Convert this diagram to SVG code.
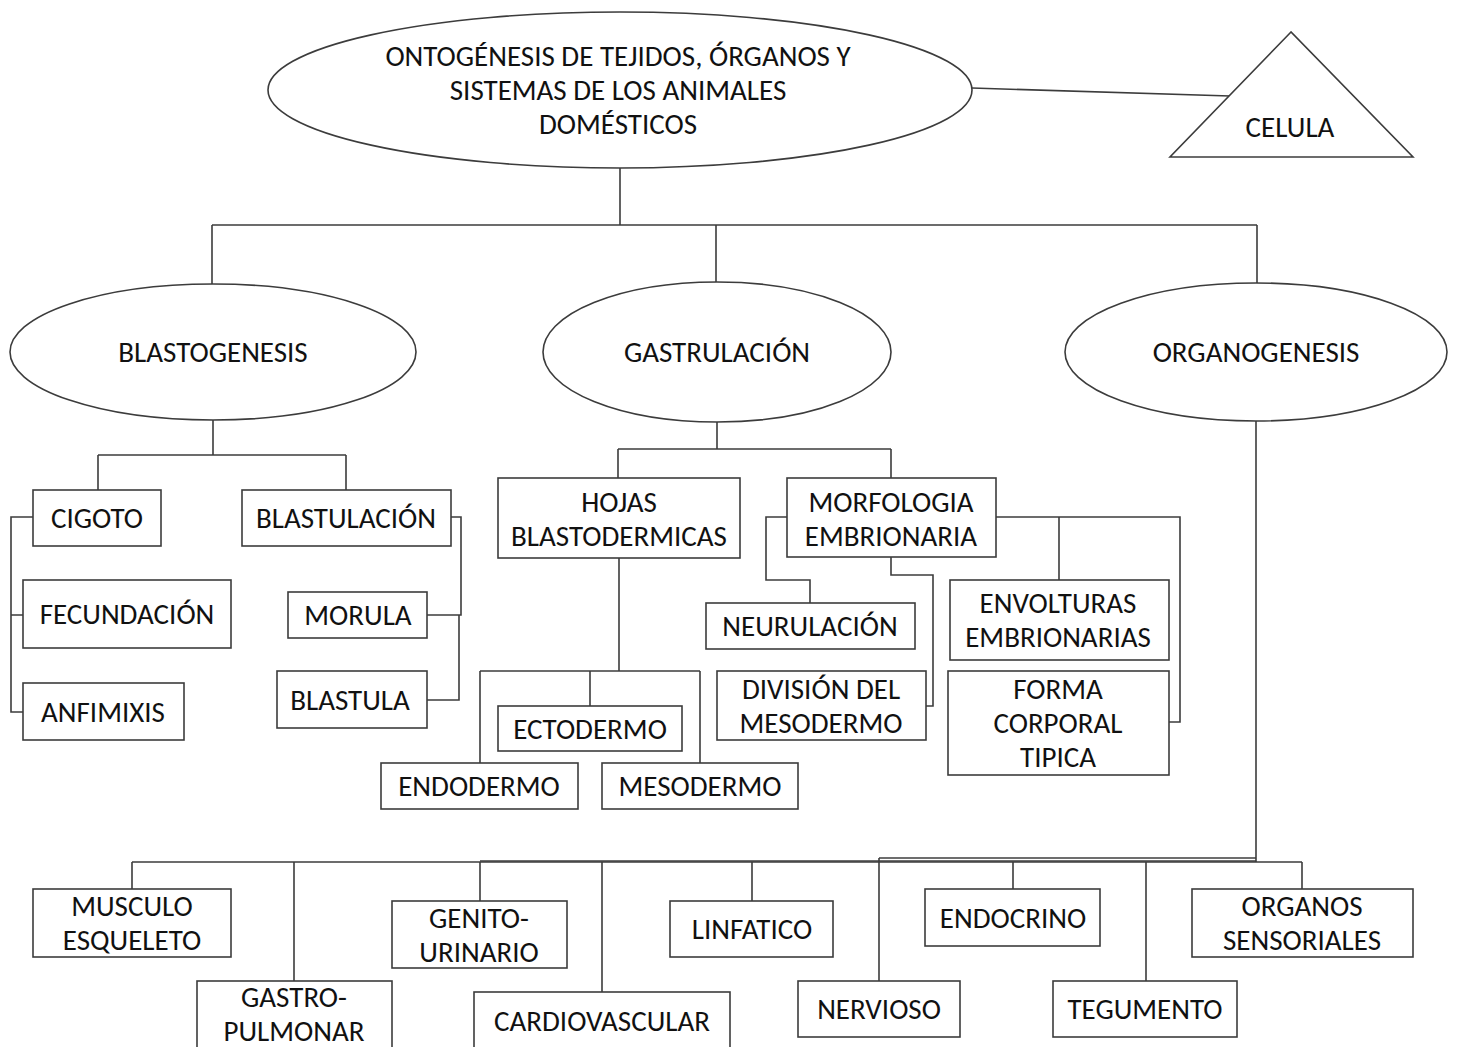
<svg xmlns="http://www.w3.org/2000/svg" width="1460" height="1047" viewBox="0 0 1460 1047">
<style>
.n{fill:#fff;stroke:#3c3c3c;stroke-width:1.6}
.c{fill:none;stroke:#3c3c3c;stroke-width:1.6}
text{font-family:Carlito,"Liberation Sans",sans-serif;font-size:29px;fill:#111;text-anchor:middle;dominant-baseline:central}
</style>
<rect width="1460" height="1047" fill="#fff"/>
<g id="connectors">
<path class="c" d="M972,88 L1230,96"/>
<path class="c" d="M620,168 V225 M212,225 H1257 M212,225 V285 M716,225 V283 M1257,225 V283"/>
<path class="c" d="M213,420 V455 M98,455 H346 M98,455 V490 M346,455 V490"/>
<path class="c" d="M33,517 H11 V712 H23 M11,615 H23"/>
<path class="c" d="M451,517 H461 V615 H427 M459,615 V700 H427"/>
<path class="c" d="M717,422 V449 M618,449 H891 M618,449 V478 M891,449 V478"/>
<path class="c" d="M619,558 V671 M480,671 H700 M480,671 V763 M590,671 V706 M700,671 V763"/>
<path class="c" d="M787,517 H766 V580 H810 V603"/>
<path class="c" d="M891,557 V575 H933 V706 H926"/>
<path class="c" d="M996,517 H1180 V722 H1169 M1059,517 V580"/>
<path class="c" d="M1256,420 V862 M132,862 H1302 M132,862 V889 M294,862 V981 M480,862 V901 M602,862 V992 M752,862 V901 M879,858 V981 M1013,862 V889 M1146,862 V981 M1302,862 V889"/>
<path class="c" d="M480,861 H1256" stroke-width="3"/>
<path class="c" d="M879,858 H1256"/>
</g>
<g id="root"><ellipse class="n" cx="620" cy="90" rx="352" ry="78"/><text x="618" y="56">ONTOGÉNESIS DE TEJIDOS, ÓRGANOS Y</text><text x="618" y="90">SISTEMAS DE LOS ANIMALES</text><text x="618" y="124">DOMÉSTICOS</text></g>
<g id="celula"><polygon class="n" points="1291,32 1170,157 1413,157"/><text x="1290" y="127">CELULA</text></g>
<g id="blastogenesis"><ellipse class="n" cx="213" cy="352" rx="203" ry="68"/><text x="213" y="352">BLASTOGENESIS</text></g>
<g id="gastrulacion"><ellipse class="n" cx="717" cy="352" rx="174" ry="70"/><text x="717" y="352">GASTRULACIÓN</text></g>
<g id="organogenesis"><ellipse class="n" cx="1256" cy="352" rx="191" ry="69"/><text x="1256" y="352">ORGANOGENESIS</text></g>
<g id="cigoto"><rect class="n" x="33" y="490" width="128" height="56"/><text x="97" y="518">CIGOTO</text></g>
<g id="blastulacion"><rect class="n" x="242" y="490" width="209" height="56"/><text x="346" y="518">BLASTULACIÓN</text></g>
<g id="fecundacion"><rect class="n" x="23" y="580" width="208" height="68"/><text x="127" y="614">FECUNDACIÓN</text></g>
<g id="anfimixis"><rect class="n" x="23" y="683" width="161" height="57"/><text x="103" y="712">ANFIMIXIS</text></g>
<g id="morula"><rect class="n" x="288" y="592" width="139" height="46"/><text x="358" y="615">MORULA</text></g>
<g id="blastula"><rect class="n" x="277" y="671" width="150" height="57"/><text x="350" y="700">BLASTULA</text></g>
<g id="hojas"><rect class="n" x="498" y="478" width="242" height="80"/><text x="619" y="502">HOJAS</text><text x="619" y="536">BLASTODERMICAS</text></g>
<g id="morfologia"><rect class="n" x="787" y="478" width="209" height="79"/><text x="891" y="502">MORFOLOGIA</text><text x="891" y="536">EMBRIONARIA</text></g>
<g id="ectodermo"><rect class="n" x="498" y="706" width="184" height="45"/><text x="590" y="729">ECTODERMO</text></g>
<g id="endodermo"><rect class="n" x="381" y="763" width="197" height="46"/><text x="479" y="786">ENDODERMO</text></g>
<g id="mesodermo"><rect class="n" x="602" y="763" width="196" height="46"/><text x="700" y="786">MESODERMO</text></g>
<g id="neurulacion"><rect class="n" x="706" y="603" width="209" height="46"/><text x="810" y="626">NEURULACIÓN</text></g>
<g id="division"><rect class="n" x="717" y="671" width="209" height="69"/><text x="821" y="689">DIVISIÓN DEL</text><text x="821" y="723">MESODERMO</text></g>
<g id="envolturas"><rect class="n" x="950" y="580" width="219" height="80"/><text x="1058" y="603">ENVOLTURAS</text><text x="1058" y="637">EMBRIONARIAS</text></g>
<g id="forma"><rect class="n" x="948" y="671" width="221" height="104"/><text x="1058" y="689">FORMA</text><text x="1058" y="723">CORPORAL</text><text x="1058" y="757">TIPICA</text></g>
<g id="musculo"><rect class="n" x="33" y="889" width="198" height="68"/><text x="132" y="906">MUSCULO</text><text x="132" y="940">ESQUELETO</text></g>
<g id="gastro"><rect class="n" x="197" y="981" width="195" height="80"/><text x="294" y="997">GASTRO-</text><text x="294" y="1031">PULMONAR</text></g>
<g id="genito"><rect class="n" x="392" y="901" width="175" height="67"/><text x="479" y="918">GENITO-</text><text x="479" y="952">URINARIO</text></g>
<g id="cardio"><rect class="n" x="474" y="992" width="256" height="70"/><text x="602" y="1021">CARDIOVASCULAR</text></g>
<g id="linfatico"><rect class="n" x="670" y="901" width="163" height="56"/><text x="752" y="929">LINFATICO</text></g>
<g id="nervioso"><rect class="n" x="798" y="981" width="162" height="56"/><text x="879" y="1009">NERVIOSO</text></g>
<g id="endocrino"><rect class="n" x="925" y="889" width="175" height="57"/><text x="1013" y="918">ENDOCRINO</text></g>
<g id="tegumento"><rect class="n" x="1053" y="981" width="184" height="56"/><text x="1145" y="1009">TEGUMENTO</text></g>
<g id="organos"><rect class="n" x="1192" y="889" width="221" height="68"/><text x="1302" y="906">ORGANOS</text><text x="1302" y="940">SENSORIALES</text></g>
</svg>
